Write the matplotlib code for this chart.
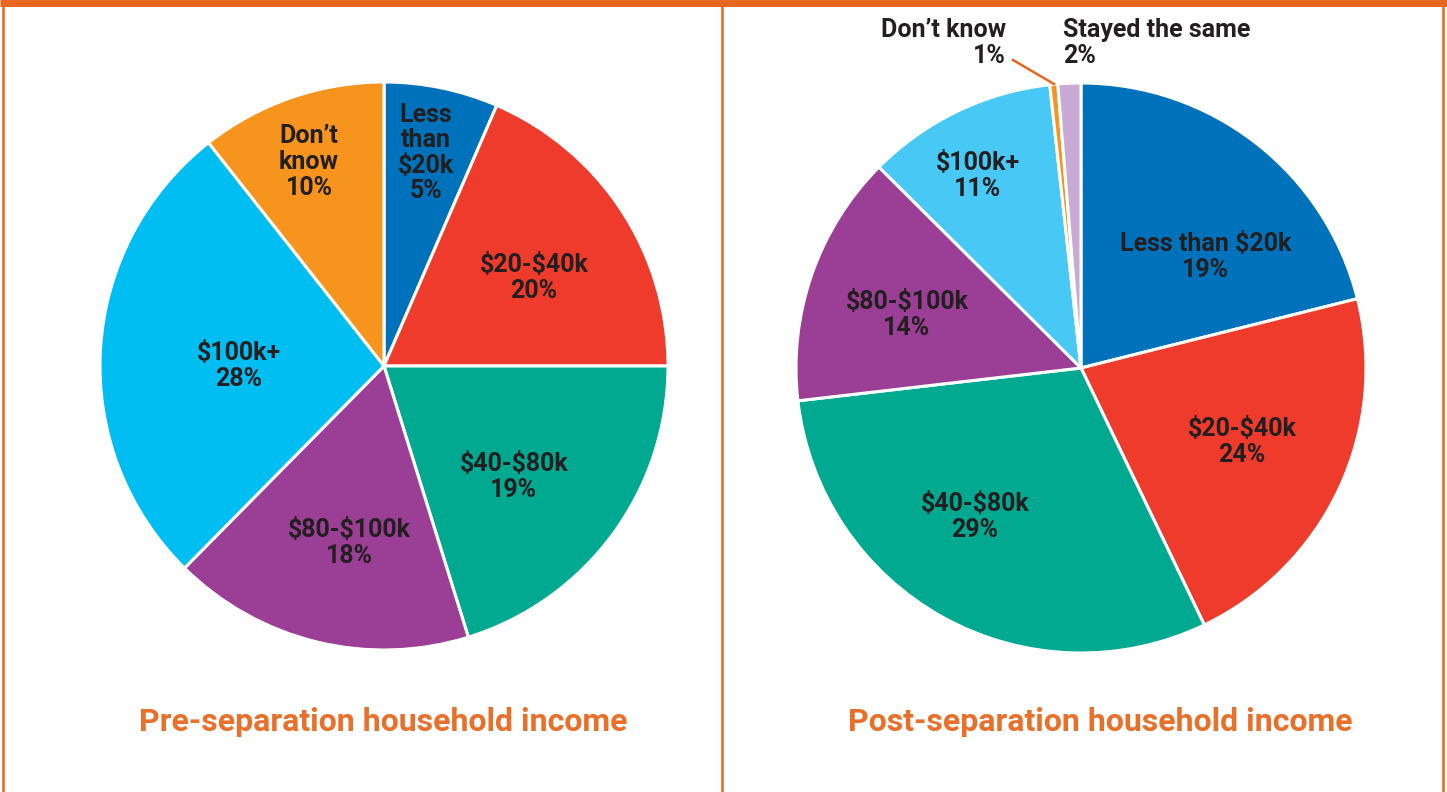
import matplotlib.pyplot as plt

plt.rcParams['text.parse_math'] = False

# shares as drawn (angles), labels as printed
pre_names = ['Less\nthan\n$20k', '$20-$40k', '$40-$80k', '$80-$100k', '$100k+', 'Don\u2019t\nknow']
pre_shares = [6.5, 18.5, 20.2, 17.2, 27.0, 10.6]
pre_pct = ['5%', '20%', '19%', '18%', '28%', '10%']
pre_colors = ['#0072BC', '#EF3B2C', '#00A98F', '#9B3F96', '#00BDF2', '#F7941D']

post_names = ['Less than $20k', '$20-$40k', '$40-$80k', '$80-$100k', '$100k+', 'Don\u2019t know', 'Stayed the same']
post_shares = [21.1, 21.8, 30.3, 14.3, 10.8, 0.45, 1.3]
post_pct = ['19%', '24%', '29%', '14%', '11%', '1%', '2%']
post_colors = ['#0072BC', '#EF3B2C', '#00A98F', '#9B3F96', '#48C8F4', '#F7941D', '#C9A9D6']

H = 792
frame_col = '#E8671F'
text_col = '#231F20'
fam = ['Roboto', 'DejaVu Sans']

fig = plt.figure(figsize=(14.47, 7.92), dpi=100)
ax = fig.add_axes([0, 0, 1, 1])

wp = dict(edgecolor='white', linewidth=2.2)
ax.pie(pre_shares, colors=pre_colors, startangle=90, counterclock=False,
       center=(384, H - 366), radius=284, wedgeprops=wp)
ax.pie(post_shares, colors=post_colors, startangle=90, counterclock=False,
       center=(1081, H - 368), radius=285, wedgeprops=wp)

ax.set_xlim(0, 1447)
ax.set_ylim(0, H)
ax.set_aspect('auto')
ax.axis('off')

# frame
ax.plot([0, 1447], [H - 3, H - 3], color=frame_col, lw=5, solid_capstyle='butt')
for x in [3, 722, 1443]:
    ax.plot([x, x], [0, H], color=frame_col, lw=1.8)

lab = dict(ha='center', va='center', fontsize=18, fontweight='bold',
           color=text_col, family=fam, linespacing=1.08)

# left labels
pre_pos = [(426, 153), (534, 278), (514, 477), (349, 543), (239, 366), (309, 162)]
for (x, y), n, p in zip(pre_pos, pre_names, pre_pct):
    ax.text(x, H - y, n + '\n' + p, **lab)

# right labels
post_pos = [(1206, 257), (1242, 442), (975, 517), (907, 315), (978, 176)]
for (x, y), n, p in zip(post_pos, post_names[:5], post_pct[:5]):
    ax.text(x, H - y, n + '\n' + p, **lab)

small = dict(lab)
small['ha'] = 'right'
ax.text(1006, H - 43, post_names[5] + '\n' + post_pct[5], multialignment='right', **small)
small['ha'] = 'left'
ax.text(1063, H - 43, post_names[6] + '\n' + post_pct[6], multialignment='left', **small)
ax.plot([1013, 1054], [H - 60, H - 84], color=frame_col, lw=1.8)

tt = dict(ha='center', va='center', fontsize=23, fontweight='bold',
          color='#E8702A', family=fam)
ax.text(383, H - 722, 'Pre-separation household income', **tt)
ax.text(1100, H - 722, 'Post-separation household income', **tt)

fig.savefig('out.png', dpi=100)
